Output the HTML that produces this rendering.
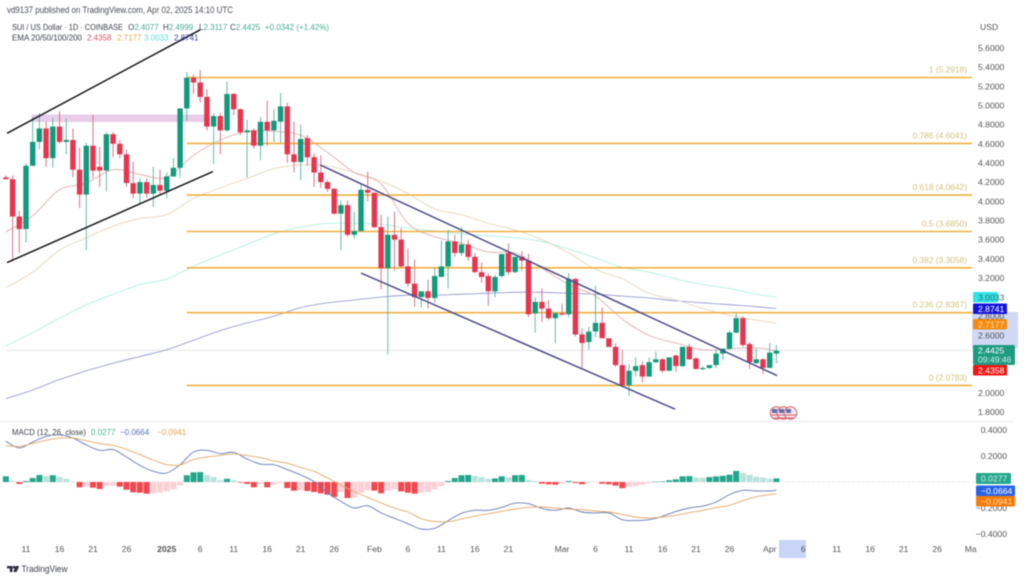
<!DOCTYPE html>
<html lang="en">
<head>
<meta charset="utf-8">
<title>SUI / US Dollar chart</title>
<style>
html,body{margin:0;padding:0;background:#fff;width:1024px;height:580px;overflow:hidden}
svg{display:block;filter:blur(.45px);font-family:"Liberation Sans",sans-serif}
.ax{font-size:8.6px;fill:#555}
.bd{font-size:8.6px;fill:#fff}
.fib{font-size:8.4px;fill:#d2c47c}
.lg{font-size:8.6px;fill:#3c3f48}
</style>
</head>
<body>
<svg id="chart" width="1024" height="580" viewBox="0 0 1024 580" xmlns="http://www.w3.org/2000/svg">
  <rect width="1024" height="580" fill="#fff"/>
  <rect x="32" y="115" width="172" height="6.5" fill="#e9cdea" stroke="#dcb6e0" stroke-width=".5"/>
  <line x1="0" y1="421.5" x2="1013" y2="421.5" stroke="#e6e7ea" stroke-width="1"/>
  <line x1="7" y1="350.5" x2="972" y2="350.5" stroke="#a9adb5" stroke-width=".7" stroke-dasharray="1 1.5"/>
  <line x1="7" y1="482" x2="975" y2="482" stroke="#dcdde2" stroke-width=".7" stroke-dasharray="3 2"/>
  <g id="macd-layer"></g>
  <g id="ema-layer"></g>
  <g id="fib-layer"></g>
  <g id="candle-layer"></g>
  <g id="trend-layer"></g>

  <g>
    <g><circle cx="776.5" cy="413" r="6.3" fill="#f4e6ea" stroke="#d8606e" stroke-width="1"/><rect x="772" y="409" width="5" height="4" fill="#5a6fb5"/><path d="M771 415h11M772 418h9" stroke="#d8606e" stroke-width="1"/></g>
    <g><circle cx="783.5" cy="413" r="6.3" fill="#f4e6ea" stroke="#d8606e" stroke-width="1"/><rect x="779" y="409" width="5" height="4" fill="#5a6fb5"/><path d="M778 415h11M779 418h9" stroke="#d8606e" stroke-width="1"/></g>
    <g><circle cx="790.5" cy="413" r="6.3" fill="#f4e6ea" stroke="#d8606e" stroke-width="1"/><rect x="786" y="409" width="5" height="4" fill="#5a6fb5"/><path d="M785 415h11M786 418h9" stroke="#d8606e" stroke-width="1"/></g>
  </g>

  <text x="7" y="13" font-size="9" fill="#4a4d55" textLength="226" lengthAdjust="spacingAndGlyphs">vd9137 published on TradingView.com, Apr 02, 2025 14:10 UTC</text>
  <text class="lg" x="12" y="30" textLength="111" lengthAdjust="spacingAndGlyphs">SUI / US Dollar · 1D · COINBASE</text>
  <g font-size="8">
    <text x="128" y="30" fill="#3c3f48">O<tspan fill="#46ad90">2.4077</tspan></text>
    <text x="163" y="30" fill="#3c3f48">H<tspan fill="#46ad90">2.4999</tspan></text>
    <text x="199" y="30" fill="#3c3f48">L<tspan fill="#46ad90">2.3117</tspan></text>
    <text x="230" y="30" fill="#3c3f48">C<tspan fill="#46ad90">2.4425</tspan></text>
    <text x="265" y="30" fill="#46ad90" textLength="64" lengthAdjust="spacingAndGlyphs">+0.0342 (+1.42%)</text>
  </g>
  <text class="lg" x="12" y="40.5" textLength="70" lengthAdjust="spacingAndGlyphs">EMA 20/50/100/200</text>
  <text font-size="8" x="87" y="40.5" fill="#d8566c">2.4358</text>
  <text font-size="8" x="117" y="40.5" fill="#e9a94c">2.7177</text>
  <text font-size="8" x="144" y="40.5" fill="#56dcd8">3.0033</text>
  <text font-size="8" x="174" y="40.5" fill="#3a3aa8">2.8741</text>

  <text class="lg" x="12" y="435" textLength="74" lengthAdjust="spacingAndGlyphs">MACD (12, 26, close)</text>
  <text font-size="8" x="91" y="435" fill="#46ad90">0.0277</text>
  <text font-size="8" x="120" y="435" fill="#5a72b8">−0.0664</text>
  <text font-size="8" x="157" y="435" fill="#e9a050">−0.0941</text>

  <text class="ax" x="980" y="30" fill="#444">USD</text>
  <rect x="972" y="312" width="46" height="36" fill="#cfd9f6"/>
  <g id="axis-layer"></g>

  <g>
    <rect x="973" y="292" width="25" height="10.5" rx="1" fill="#2ee6ea"/>
    <text class="bd" x="978" y="300.5" style="fill:#3b6a72">3.0033</text>
    <rect x="973" y="303.5" width="34" height="10.5" rx="1" fill="#1414d8"/>
    <text class="bd" x="978" y="312">2.8741</text>
    <rect x="973" y="319" width="34" height="10.5" rx="1" fill="#f48c14"/>
    <text class="bd" x="978" y="327.5" style="fill:#f9d9a8">2.7177</text>
    <rect x="973" y="365" width="34" height="10.5" rx="1" fill="#f01616"/>
    <text class="bd" x="978" y="373.5">2.4358</text>
    <rect x="973" y="345" width="42" height="20" rx="1.5" fill="#1e9b80"/>
    <text class="bd" x="978" y="353.5">2.4425</text>
    <text class="bd" x="978" y="362.5" style="fill:#cfeee6">09:49:46</text>
    <rect x="976" y="473" width="35" height="11" rx="1" fill="#25a78d"/>
    <text class="bd" x="981" y="481.5" style="fill:#cfeee6">0.0277</text>
    <rect x="976" y="485.5" width="39" height="10.5" rx="1" fill="#2962e8"/>
    <text class="bd" x="981" y="494">−0.0664</text>
    <rect x="976" y="496" width="39" height="10.5" rx="1" fill="#f57c0a"/>
    <text class="bd" x="981" y="504.5" style="fill:#f9d9a8">−0.0941</text>
  </g>

  <rect x="779" y="540" width="27" height="18" fill="#c9d5f6"/>
  <g id="date-layer"></g>

  <g>
    <path d="M7 566h5.5v6h-2.7v-3.6H7zM15.5 566h3.7l-2.6 6h-3.2z" fill="#2b2f3a"/>
    <circle cx="14" cy="567.2" r="1.3" fill="#2b2f3a"/>
    <text x="21.5" y="572" font-size="9" fill="#3a3d46" textLength="46" lengthAdjust="spacingAndGlyphs">TradingView</text>
  </g>
</svg>
<script>
const firstDay = -3;
const opens = [4.25,4.23,3.84,3.71,4.37,4.62,4.76,4.45,4.78,4.62,4.64,4.33,4.07,4.58,4.36,4.32,4.70,4.60,4.49,4.19,4.08,4.20,4.08,4.17,4.11,4.26,4.35,4.97,5.29,5.24,5.09,4.78,4.89,4.74,5.12,4.96,4.72,4.74,4.58,4.83,4.74,4.83,4.99,4.49,4.41,4.66,4.46,4.30,4.20,4.13,3.87,3.96,3.65,3.69,4.12,4.09,3.73,3.30,3.65,3.60,3.32,3.14,3.00,3.06,2.99,3.21,3.32,3.58,3.46,3.55,3.42,3.26,3.22,3.06,3.22,3.46,3.26,3.42,3.38,2.83,2.95,2.88,2.78,2.83,2.82,3.19,2.61,2.53,2.64,2.73,2.57,2.48,2.29,2.08,2.23,2.29,2.17,2.32,2.35,2.23,2.39,2.28,2.48,2.36,2.25,2.26,2.29,2.41,2.46,2.63,2.78,2.51,2.31,2.35,2.26,2.41];
const highs = [4.27,4.27,3.90,4.40,4.88,4.92,4.83,4.87,4.94,4.86,4.76,4.56,4.61,4.90,4.57,4.72,4.72,4.64,4.54,4.41,4.24,4.24,4.36,4.33,4.30,4.45,4.97,5.35,5.32,5.37,5.17,4.92,4.92,5.25,5.13,4.97,4.85,4.76,4.88,5.05,4.96,5.13,5.03,4.83,4.80,4.69,4.50,4.48,4.22,4.14,4.01,4.01,3.89,4.19,4.31,4.09,3.86,3.84,3.89,3.72,3.51,3.39,3.06,3.18,3.31,3.59,3.70,3.65,3.73,3.60,3.46,3.36,3.25,3.23,3.45,3.56,3.42,3.48,3.45,3.00,3.09,2.97,2.84,2.93,3.25,3.20,2.67,2.69,3.12,2.89,2.57,2.52,2.45,2.30,2.37,2.33,2.37,2.43,2.36,2.37,2.40,2.48,2.51,2.37,2.28,2.29,2.45,2.47,2.65,2.83,2.80,2.53,2.46,2.36,2.52,2.50];
const lows = [4.23,3.37,3.46,3.57,4.37,4.54,4.36,4.35,4.60,4.49,4.25,3.93,3.49,4.24,4.15,4.10,4.46,4.45,4.15,4.03,3.97,4.04,3.94,4.06,4.03,4.25,4.25,4.84,5.12,5.03,4.74,4.39,4.49,4.73,4.90,4.69,4.25,4.55,4.43,4.58,4.62,4.61,4.40,4.30,4.22,4.37,4.15,4.14,4.10,3.86,3.49,3.63,3.61,3.68,4.00,3.72,3.08,2.40,3.28,3.31,3.11,2.90,2.89,2.88,2.94,3.21,3.09,3.42,3.43,3.38,3.25,3.15,2.91,3.00,3.20,3.23,3.25,3.28,2.79,2.63,2.74,2.76,2.52,2.81,2.79,2.59,2.26,2.45,2.58,2.57,2.48,2.27,2.06,1.97,2.17,2.11,2.17,2.31,2.21,2.23,2.22,2.27,2.35,2.24,2.24,2.25,2.26,2.34,2.45,2.62,2.48,2.25,2.30,2.20,2.26,2.31];
const closes = [4.23,3.84,3.71,4.37,4.62,4.76,4.45,4.78,4.62,4.64,4.33,4.07,4.58,4.32,4.32,4.70,4.60,4.49,4.19,4.08,4.20,4.08,4.17,4.11,4.26,4.35,4.97,5.29,5.24,5.09,4.78,4.89,4.74,5.12,4.96,4.72,4.74,4.58,4.83,4.74,4.84,4.99,4.49,4.41,4.65,4.46,4.30,4.20,4.13,3.87,3.96,3.65,3.69,4.12,4.09,3.73,3.30,3.65,3.60,3.32,3.14,3.00,3.06,2.99,3.22,3.32,3.58,3.46,3.55,3.42,3.26,3.21,3.06,3.21,3.45,3.26,3.42,3.38,2.82,2.95,2.88,2.78,2.83,2.82,3.19,2.61,2.52,2.64,2.73,2.57,2.48,2.29,2.08,2.23,2.28,2.17,2.32,2.35,2.23,2.37,2.28,2.48,2.35,2.25,2.26,2.29,2.41,2.46,2.63,2.78,2.50,2.32,2.35,2.26,2.42,2.44];

const lineDays = [-3,1,5,9,13,17,21,25,29,33,37,41,45,49,53,57,61,65,69,73,77,81,85,89,93,97,101,105,109,112];
const ema20 = [3.68,3.85,4.12,4.19,4.33,4.28,4.25,4.48,4.64,4.73,4.73,4.69,4.51,4.30,4.18,3.77,3.63,3.56,3.47,3.46,3.30,3.13,3.01,2.77,2.60,2.52,2.45,2.46,2.47,2.44];
const ema50 = [3.10,3.26,3.49,3.62,3.74,3.82,3.86,4.03,4.14,4.24,4.34,4.38,4.37,4.30,4.21,4.08,3.92,3.86,3.77,3.70,3.60,3.46,3.29,3.19,3.04,2.97,2.88,2.81,2.76,2.73];
const ema100 = [2.49,2.63,2.78,2.92,3.03,3.13,3.19,3.32,3.44,3.55,3.66,3.73,3.77,3.77,3.76,3.72,3.69,3.66,3.64,3.62,3.58,3.50,3.41,3.31,3.26,3.19,3.13,3.09,3.03,3.00];
const ema200 = [1.94,2.03,2.14,2.23,2.31,2.38,2.45,2.55,2.65,2.73,2.80,2.89,2.94,2.97,3.00,3.02,3.02,3.03,3.04,3.05,3.05,3.04,3.03,3.01,2.99,2.96,2.94,2.92,2.90,2.88];
const macdDays = [-3,-1,1,3,5,7,9,11,13,15,17,19,21,23,25,27,29,31,33,35,37,39,41,43,45,47,49,51,53,55,57,59,61,63,65,67,69,71,73,75,77,79,81,83,85,87,89,91,93,95,97,99,101,103,105,107,109,111,112];
const macdLine = [.313,.262,.308,.351,.364,.338,.285,.244,.249,.192,.128,.082,.069,.133,.231,.244,.218,.228,.177,.138,.133,.095,.054,.003,-.082,-.149,-.200,-.182,-.238,-.279,-.321,-.362,-.356,-.297,-.241,-.218,-.218,-.195,-.162,-.167,-.203,-.218,-.200,-.231,-.238,-.238,-.290,-.297,-.290,-.264,-.226,-.200,-.185,-.154,-.097,-.064,-.069,-.069,-.064];
const signalLine = [.279,.274,.297,.321,.338,.338,.318,.295,.282,.251,.210,.169,.133,.131,.172,.192,.205,.215,.203,.187,.162,.144,.113,.082,.031,-.023,-.074,-.118,-.162,-.200,-.231,-.282,-.303,-.305,-.285,-.262,-.244,-.226,-.208,-.195,-.192,-.200,-.208,-.213,-.223,-.231,-.249,-.269,-.277,-.269,-.256,-.236,-.218,-.197,-.179,-.144,-.113,-.097,-.090];
const macdHist = [.044,.008,-.015,.008,.031,.054,.046,.052,.038,.025,.004,-.041,-.036,-.044,-.054,-.031,-.028,-.036,-.059,-.079,-.082,-.090,-.088,-.082,-.072,-.056,-.025,.052,.075,.076,.052,.038,.013,.025,.013,-.005,-.015,-.041,-.013,-.041,-.021,-.008,-.046,-.067,-.062,-.069,-.077,-.087,-.098,-.115,-.077,-.123,-.121,-.082,-.064,-.066,-.087,-.067,-.056,-.072,-.082,-.090,-.082,-.077,-.056,-.031,.008,.031,.052,.054,.046,.038,.025,.028,.044,.036,.052,.054,.015,.008,-.013,-.018,-.021,-.013,.008,-.008,-.018,-.008,-.005,-.013,-.018,-.028,-.048,-.038,-.031,-.021,-.010,.002,.005,.013,.021,.044,.045,.033,.032,.038,.044,.048,.056,.085,.069,.054,.041,.033,.025,.028];

const fibLevels = [5.2918,4.6041,4.0642,3.6850,3.3058,2.8367,2.0783];
const fibRatios = ["1","0.786","0.618","0.5","0.382","0.236","0"];
const fibStartDay = 24;
const fibEndDay = 141.2;

const channelBlackUpper = [-2.84,4.71,26,5.79];
const channelBlackLower = [-2.84,3.36,27.9,4.31];
const channelPurpleUpper = [43.9,4.38,112.1,2.18];
const channelPurpleLower = [50,3.25,96.9,1.83];

const priceTicks = [5.6,5.4,5.2,5.0,4.8,4.6,4.4,4.2,4.0,3.8,3.6,3.4,3.2,2.8,2.6,2.0,1.8];
const macdTicks = [0.4,0.2,-0.2,-0.4];
const dateTickDays = [0,5,10,15,21,26,31,36,41,46,52,57,62,67,72,80,85,90,95,100,105,111,116,121,126,131,136,141];
const dateTickLabels = ["11","16","21","26","2025","6","11","16","21","26","Feb","6","11","16","21","Mar","6","11","16","21","26","Apr","6","11","16","21","26","Ma"];

const NS = "http://www.w3.org/2000/svg";
const xDay = d => 26 + 6.7 * d;
const yPrice = p => 48 + (5.6 - p) * 95.8;
const yMacd = v => 482 - v * 130;

function mk(tag, parent) {
  const el = document.createElementNS(NS, tag);
  parent.appendChild(el);
  return el;
}
/* smooth curve through the data points */
function smoothPath(days, values, yFn) {
  const p = days.map((d, i) => [xDay(d), yFn(values[i])]);
  let s = "M" + p[0][0].toFixed(1) + " " + p[0][1].toFixed(1);
  for (let i = 0; i < p.length - 1; i++) {
    const a = p[Math.max(0, i - 1)], b = p[i], c = p[i + 1], e = p[Math.min(p.length - 1, i + 2)];
    const c1x = b[0] + (c[0] - a[0]) / 6, c1y = b[1] + (c[1] - a[1]) / 6;
    const c2x = c[0] - (e[0] - b[0]) / 6, c2y = c[1] - (e[1] - b[1]) / 6;
    s += "C" + c1x.toFixed(1) + " " + c1y.toFixed(1) + " " + c2x.toFixed(1) + " " + c2y.toFixed(1) + " " + c[0].toFixed(1) + " " + c[1].toFixed(1);
  }
  return s;
}

/* MACD histogram */
const macdLayer = document.getElementById("macd-layer");
macdHist.forEach((v, i) => {
  const prev = i ? macdHist[i - 1] : 0;
  const rising = v >= prev;
  const col = v >= 0 ? (rising ? "#25a58c" : "#b9e2dc") : (rising ? "#fdd0d6" : "#f2474f");
  const r = mk("rect", macdLayer);
  
  
  const y0 = yMacd(0), y1 = yMacd(v);
  r.setAttribute("x", (xDay(firstDay + i) - 3).toFixed(1));
  r.setAttribute("y", Math.min(y0, y1).toFixed(1));
  r.setAttribute("width", "6");
  r.setAttribute("height", Math.max(0.5, Math.abs(y1 - y0)).toFixed(1));
  r.setAttribute("fill", col);
});
const macdPath = mk("path", macdLayer);


macdPath.setAttribute("d", smoothPath(macdDays, macdLine, yMacd));
macdPath.setAttribute("fill", "none");
macdPath.setAttribute("stroke", "#6678b4");
macdPath.setAttribute("stroke-width", ".9");
const sigPath = mk("path", macdLayer);


sigPath.setAttribute("d", smoothPath(macdDays, signalLine, yMacd));
sigPath.setAttribute("fill", "none");
sigPath.setAttribute("stroke", "#e2a968");
sigPath.setAttribute("stroke-width", ".9");

/* EMA lines */
const emaLayer = document.getElementById("ema-layer");
const e200 = mk("path", emaLayer);


e200.setAttribute("d", smoothPath(lineDays, ema200, yPrice));
e200.setAttribute("fill", "none");
e200.setAttribute("stroke", "#8d8fca");
e200.setAttribute("stroke-width", ".8");
const e100 = mk("path", emaLayer);


e100.setAttribute("d", smoothPath(lineDays, ema100, yPrice));
e100.setAttribute("fill", "none");
e100.setAttribute("stroke", "#b0efe3");
e100.setAttribute("stroke-width", ".9");
const e50 = mk("path", emaLayer);


e50.setAttribute("d", smoothPath(lineDays, ema50, yPrice));
e50.setAttribute("fill", "none");
e50.setAttribute("stroke", "#e6d6ba");
e50.setAttribute("stroke-width", ".9");
const e20 = mk("path", emaLayer);


e20.setAttribute("d", smoothPath(lineDays, ema20, yPrice));
e20.setAttribute("fill", "none");
e20.setAttribute("stroke", "#dfb0b0");
e20.setAttribute("stroke-width", ".9");

/* Fibonacci */
const fibLayer = document.getElementById("fib-layer");
fibLevels.forEach((lv, i) => {
  const l = mk("line", fibLayer);
  
  
  l.setAttribute("x1", xDay(fibStartDay));
  l.setAttribute("x2", xDay(fibEndDay));
  l.setAttribute("y1", yPrice(lv).toFixed(1));
  l.setAttribute("y2", yPrice(lv).toFixed(1));
  l.setAttribute("stroke", "#efb040");
  l.setAttribute("stroke-width", "1.6");
  const t = mk("text", fibLayer);
  
  
  t.setAttribute("class", "fib");
  t.setAttribute("x", "967");
  t.setAttribute("y", (yPrice(lv) - 5).toFixed(1));
  t.setAttribute("text-anchor", "end");
  t.textContent = fibRatios[i] + " (" + lv.toFixed(4) + ")";
});

/* Candles */
const candleLayer = document.getElementById("candle-layer");
opens.forEach((o, i) => {
  const c = closes[i], cx = xDay(firstDay + i);
  const up = c >= o;
  const g = mk("g", candleLayer);
  
  
  const w = mk("line", g);
  
  
  w.setAttribute("x1", cx.toFixed(1));
  w.setAttribute("x2", cx.toFixed(1));
  w.setAttribute("y1", yPrice(highs[i]).toFixed(1));
  w.setAttribute("y2", yPrice(lows[i]).toFixed(1));
  w.setAttribute("stroke", up ? "#4fb59c" : "#d8667a");
  w.setAttribute("stroke-width", ".9");
  const b = mk("rect", g);
  
  
  const yo = yPrice(o), yc = yPrice(c);
  b.setAttribute("x", (cx - 2.7).toFixed(1));
  b.setAttribute("y", Math.min(yo, yc).toFixed(1));
  b.setAttribute("width", "5.4");
  b.setAttribute("height", Math.max(1.2, Math.abs(yo - yc)).toFixed(1));
  b.setAttribute("fill", up ? "#119a7b" : "#e8344f");
});

/* Trend channels */
const trendLayer = document.getElementById("trend-layer");
function drawTrend(seg, color, name) {
  const l = mk("line", trendLayer);
  
  
  l.setAttribute("x1", xDay(seg[0]).toFixed(1));
  l.setAttribute("y1", yPrice(seg[1]).toFixed(1));
  l.setAttribute("x2", xDay(seg[2]).toFixed(1));
  l.setAttribute("y2", yPrice(seg[3]).toFixed(1));
  l.setAttribute("stroke", color);
  l.setAttribute("stroke-width", "1.5");
}
drawTrend(channelBlackUpper, "#15161a", "rising-channel-upper");
drawTrend(channelBlackLower, "#15161a", "rising-channel-lower");
drawTrend(channelPurpleUpper, "#4c4c8c", "falling-channel-upper");
drawTrend(channelPurpleLower, "#4c4c8c", "falling-channel-lower");

/* Axes */
const axisLayer = document.getElementById("axis-layer");
priceTicks.forEach(p => {
  const t = mk("text", axisLayer);
  
  
  t.setAttribute("class", "ax");
  t.setAttribute("x", "978");
  t.setAttribute("y", (yPrice(p) + 3).toFixed(1));
  t.textContent = p.toFixed(4);
});
macdTicks.forEach(v => {
  const t = mk("text", axisLayer);
  
  
  t.setAttribute("class", "ax");
  t.setAttribute("x", "1007");
  t.setAttribute("text-anchor", "end");
  t.setAttribute("y", (yMacd(v) + 3).toFixed(1));
  t.textContent = (v < 0 ? "−" : "") + Math.abs(v).toFixed(4);
});
const dateLayer = document.getElementById("date-layer");
dateTickDays.forEach((d, i) => {
  const t = mk("text", dateLayer);
  
  
  t.setAttribute("class", "ax");
  t.setAttribute("x", xDay(d).toFixed(1));
  t.setAttribute("y", "552");
  t.setAttribute("text-anchor", "middle");
  if (dateTickLabels[i] === "2025") {
    t.setAttribute("font-weight", "bold");
    t.setAttribute("font-size", "9");
  }
  t.textContent = dateTickLabels[i];
});
</script>
</body>
</html>
